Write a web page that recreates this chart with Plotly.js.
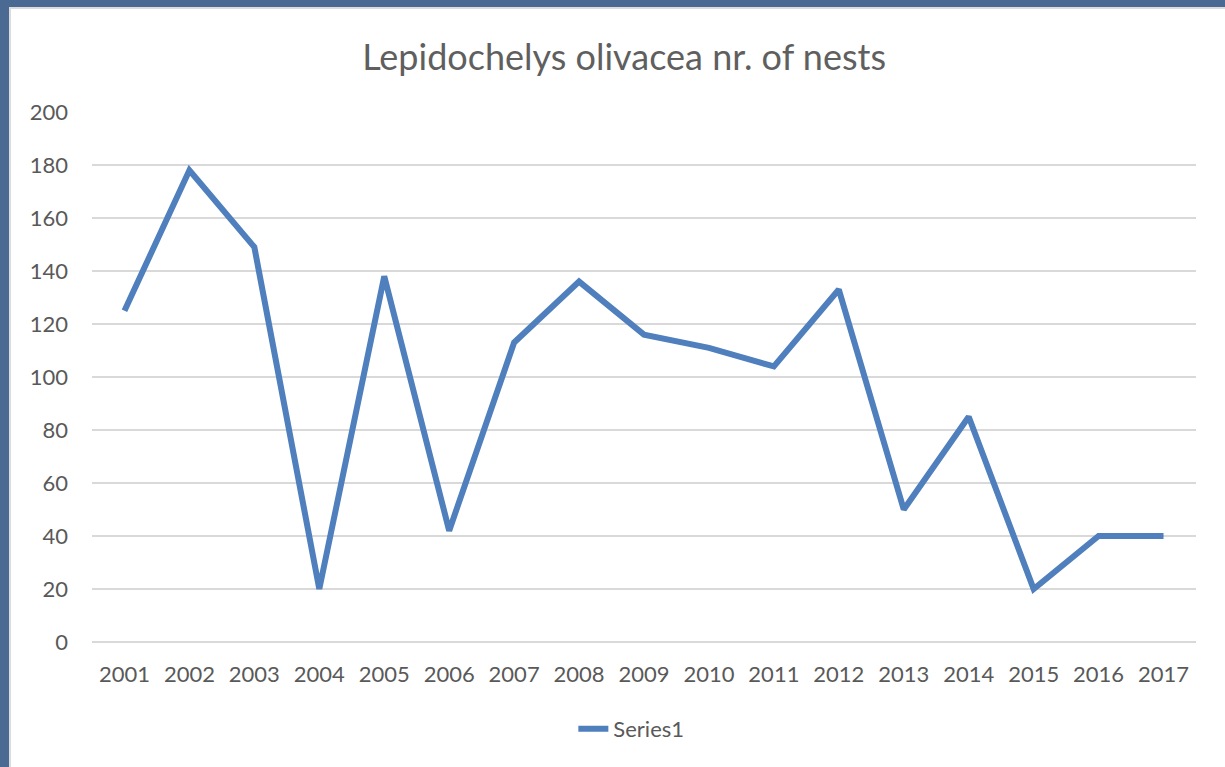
<!DOCTYPE html>
<html>
<head>
<meta charset="utf-8">
<script src="https://cdn.plot.ly/plotly-3.0.1.min.js"></script>
<style>
  html, body { margin: 0; padding: 0; width: 1225px; height: 767px; overflow: hidden; background: #4a6a93; }
  #frame { position: absolute; left: 9px; top: 7px; width: 1216px; height: 760px; background: #dcdcdc; }
  #chart { position: absolute; left: 11px; top: 9px; width: 1214px; height: 758px; background: #ffffff; }
</style>
</head>
<body>
<div id="frame"></div>
<div id="chart"></div>
<script>
const years = ["2001","2002","2003","2004","2005","2006","2007","2008","2009","2010","2011","2012","2013","2014","2015","2016","2017"];
const nests = [125, 178, 149, 20, 138, 42, 113, 136, 116, 111, 104, 133, 50, 85, 20, 40, 40];
const yTicks = [0, 20, 40, 60, 80, 100, 120, 140, 160, 180, 200];
const seriesName = "Series1";
const chartTitle = "Lepidochelys olivacea nr. of nests";

const fontFam = "Lato, 'Open Sans', sans-serif";
const trace = {
  x: years, y: nests, type: 'scatter', mode: 'lines', name: seriesName,
  line: { color: '#4f7fbc', width: 6, shape: 'linear' },
  hoverinfo: 'x+y'
};
const layout = {
  width: 1214, height: 758,
  paper_bgcolor: '#ffffff', plot_bgcolor: '#ffffff',
  margin: { l: 81, r: 29, t: 103, b: 125 },
  font: { family: fontFam, color: '#595959', size: 22 },
  title: { text: chartTitle, font: { family: fontFam, size: 36, color: '#5f5f5f' },
           x: 0.505, xanchor: 'center', xref: 'container', y: 1 - 48/758, yanchor: 'middle', yref: 'container' },
  xaxis: { type: 'category', range: [-0.5, 16.5], showgrid: false, zeroline: false, showline: false,
           ticks: '', tickfont: { size: 22, color: '#595959' }, ticklabelstandoff: 17, fixedrange: true },
  yaxis: { range: [0, 200], tickvals: yTicks, ticktext: yTicks.map(String), showgrid: true, gridcolor: '#d9d9d9', gridwidth: 2,
           zeroline: true, zerolinecolor: '#d9d9d9', zerolinewidth: 2, showline: false, ticks: '',
           tickfont: { size: 22, color: '#595959' }, ticklabelstandoff: 23, fixedrange: true },
  showlegend: true,
  legend: { orientation: 'h', x: 0.511, xanchor: 'center', xref: 'container', y: 1 - 720/758, yanchor: 'middle', yref: 'container',
            font: { size: 22, color: '#595959' } }
};
Plotly.newPlot('chart', [trace], layout, { displayModeBar: false, staticPlot: true });
</script>
</body>
</html>
